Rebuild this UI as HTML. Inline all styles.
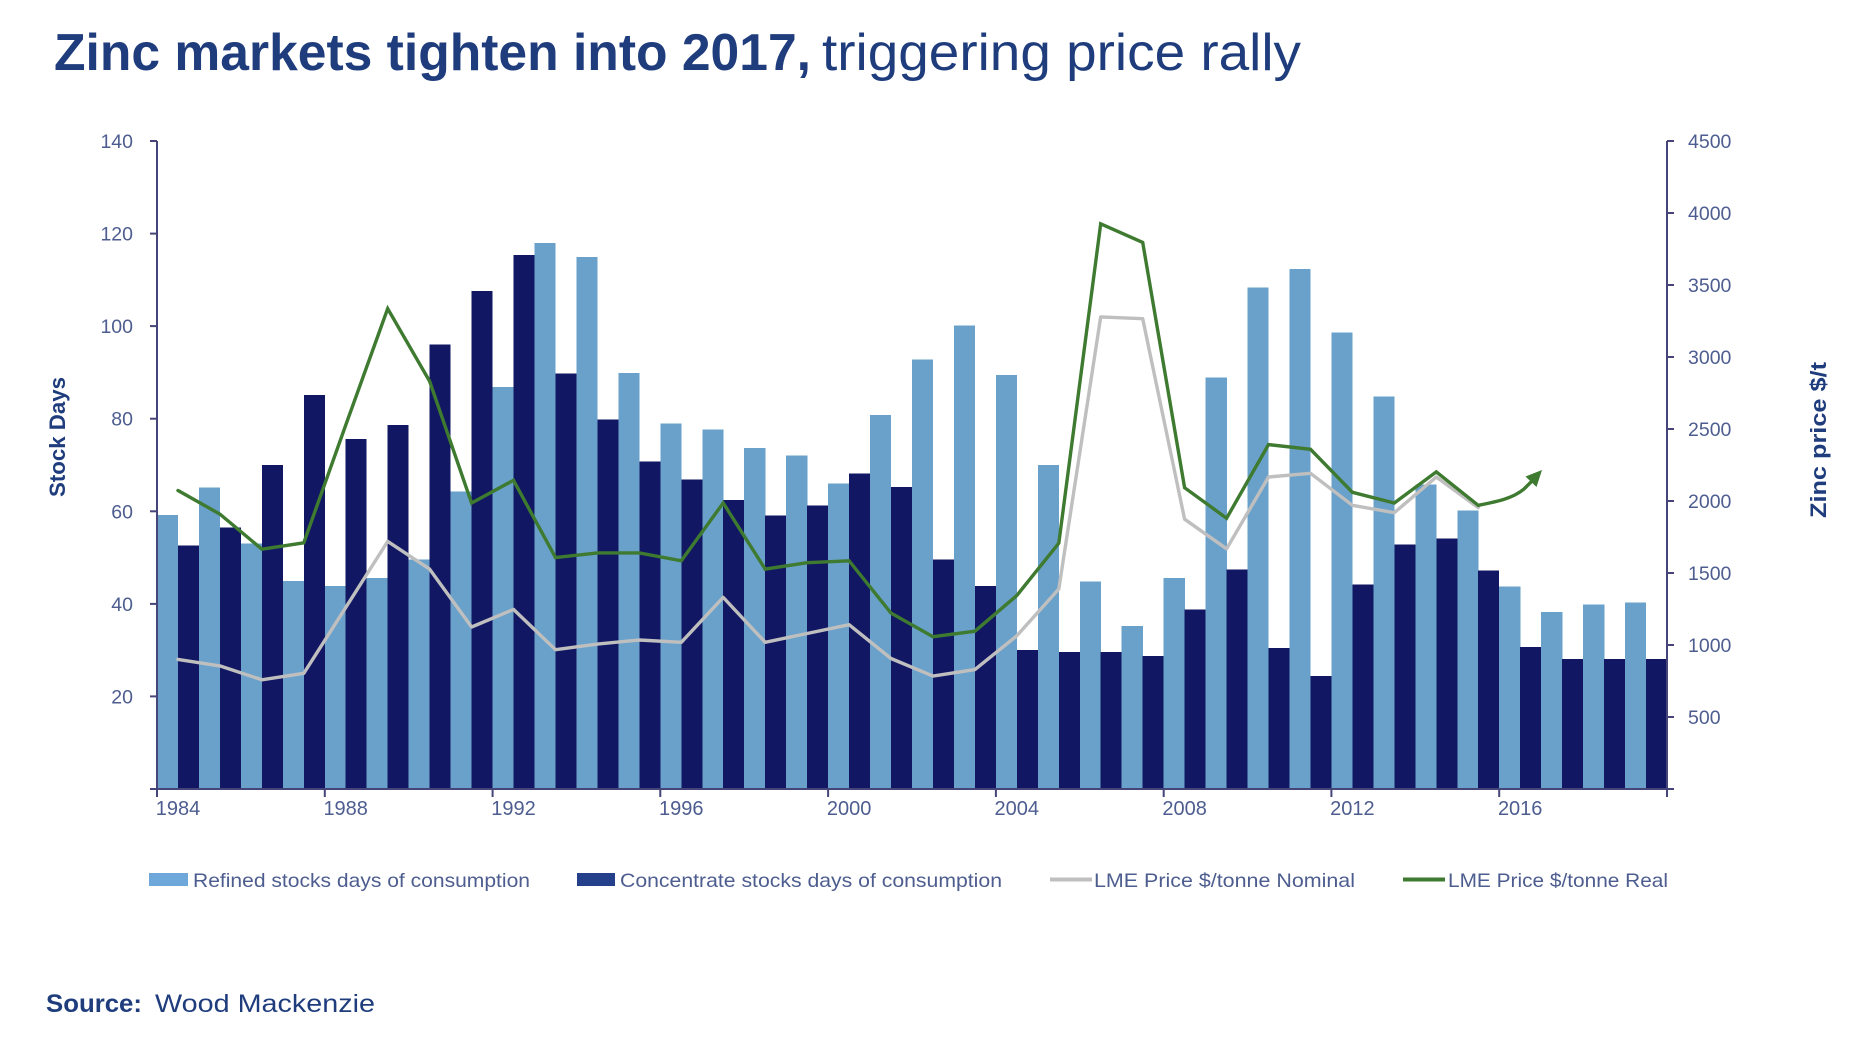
<!DOCTYPE html>
<html>
<head>
<meta charset="utf-8">
<style>
  html,body{margin:0;padding:0;background:#fff;}
  svg{display:block;}
  text{font-family:"Liberation Sans", Arial, sans-serif;}
</style>
</head>
<body>
<svg width="1871" height="1037" viewBox="0 0 1871 1037" xmlns="http://www.w3.org/2000/svg">
  <rect x="0" y="0" width="1871" height="1037" fill="#ffffff"/>

  <!-- Title -->
  <text x="54" y="70" font-size="52" font-weight="bold" fill="#1f3d7d" textLength="757" lengthAdjust="spacingAndGlyphs">Zinc markets tighten into 2017,</text>
  <text x="822" y="70" font-size="52" fill="#1f3d7d" textLength="479" lengthAdjust="spacingAndGlyphs">triggering price rally</text>

  <!-- Bars -->
  <g transform="translate(157 789) scale(41.944 -4.6286)" shape-rendering="crispEdges">
    <g fill="#6aa1ca">
      <rect x="0" y="0" width="0.505" height="59.2"/>
      <rect x="1" y="0" width="0.505" height="65.1"/>
      <rect x="2" y="0" width="0.505" height="53.0"/>
      <rect x="3" y="0" width="0.505" height="44.9"/>
      <rect x="4" y="0" width="0.505" height="43.9"/>
      <rect x="5" y="0" width="0.505" height="45.6"/>
      <rect x="6" y="0" width="0.505" height="49.6"/>
      <rect x="7" y="0" width="0.505" height="64.3"/>
      <rect x="8" y="0" width="0.505" height="86.9"/>
      <rect x="9" y="0" width="0.505" height="118.0"/>
      <rect x="10" y="0" width="0.505" height="114.9"/>
      <rect x="11" y="0" width="0.505" height="89.9"/>
      <rect x="12" y="0" width="0.505" height="79.0"/>
      <rect x="13" y="0" width="0.505" height="77.7"/>
      <rect x="14" y="0" width="0.505" height="73.7"/>
      <rect x="15" y="0" width="0.505" height="72.0"/>
      <rect x="16" y="0" width="0.505" height="66.0"/>
      <rect x="17" y="0" width="0.505" height="80.8"/>
      <rect x="18" y="0" width="0.505" height="92.8"/>
      <rect x="19" y="0" width="0.505" height="100.1"/>
      <rect x="20" y="0" width="0.505" height="89.4"/>
      <rect x="21" y="0" width="0.505" height="70.0"/>
      <rect x="22" y="0" width="0.505" height="44.8"/>
      <rect x="23" y="0" width="0.505" height="35.2"/>
      <rect x="24" y="0" width="0.505" height="45.6"/>
      <rect x="25" y="0" width="0.505" height="88.9"/>
      <rect x="26" y="0" width="0.505" height="108.4"/>
      <rect x="27" y="0" width="0.505" height="112.3"/>
      <rect x="28" y="0" width="0.505" height="98.6"/>
      <rect x="29" y="0" width="0.505" height="84.8"/>
      <rect x="30" y="0" width="0.505" height="65.8"/>
      <rect x="31" y="0" width="0.505" height="60.2"/>
      <rect x="32" y="0" width="0.505" height="43.8"/>
      <rect x="33" y="0" width="0.505" height="38.2"/>
      <rect x="34" y="0" width="0.505" height="39.9"/>
      <rect x="35" y="0" width="0.505" height="40.3"/>
    </g>
    <g fill="#111762">
      <rect x="0.5" y="0" width="0.5" height="52.6"/>
      <rect x="1.5" y="0" width="0.5" height="56.5"/>
      <rect x="2.5" y="0" width="0.5" height="70.0"/>
      <rect x="3.5" y="0" width="0.5" height="85.1"/>
      <rect x="4.5" y="0" width="0.5" height="75.6"/>
      <rect x="5.5" y="0" width="0.5" height="78.6"/>
      <rect x="6.5" y="0" width="0.5" height="96.0"/>
      <rect x="7.5" y="0" width="0.5" height="107.6"/>
      <rect x="8.5" y="0" width="0.5" height="115.4"/>
      <rect x="9.5" y="0" width="0.5" height="89.8"/>
      <rect x="10.5" y="0" width="0.5" height="79.8"/>
      <rect x="11.5" y="0" width="0.5" height="70.8"/>
      <rect x="12.5" y="0" width="0.5" height="66.9"/>
      <rect x="13.5" y="0" width="0.5" height="62.4"/>
      <rect x="14.5" y="0" width="0.5" height="59.1"/>
      <rect x="15.5" y="0" width="0.5" height="61.2"/>
      <rect x="16.5" y="0" width="0.5" height="68.2"/>
      <rect x="17.5" y="0" width="0.5" height="65.2"/>
      <rect x="18.5" y="0" width="0.5" height="49.6"/>
      <rect x="19.5" y="0" width="0.5" height="43.9"/>
      <rect x="20.5" y="0" width="0.5" height="30.0"/>
      <rect x="21.5" y="0" width="0.5" height="29.6"/>
      <rect x="22.5" y="0" width="0.5" height="29.6"/>
      <rect x="23.5" y="0" width="0.5" height="28.7"/>
      <rect x="24.5" y="0" width="0.5" height="38.8"/>
      <rect x="25.5" y="0" width="0.5" height="47.4"/>
      <rect x="26.5" y="0" width="0.5" height="30.5"/>
      <rect x="27.5" y="0" width="0.5" height="24.4"/>
      <rect x="28.5" y="0" width="0.5" height="44.2"/>
      <rect x="29.5" y="0" width="0.5" height="52.8"/>
      <rect x="30.5" y="0" width="0.5" height="54.1"/>
      <rect x="31.5" y="0" width="0.5" height="47.2"/>
      <rect x="32.5" y="0" width="0.5" height="30.7"/>
      <rect x="33.5" y="0" width="0.5" height="28.1"/>
      <rect x="34.5" y="0" width="0.5" height="28.1"/>
      <rect x="35.5" y="0" width="0.5" height="28.1"/>
    </g>
  </g>

  <!-- Nominal price (gray) -->
  <polyline fill="none" stroke="#bfbfbf" stroke-width="3.4" stroke-linejoin="round" stroke-linecap="round"
    points="178.0,659.4 219.9,665.9 261.9,679.8 303.8,673.3 345.7,607.6 387.7,541.4 429.6,569.1 471.6,627.0 513.5,609.4 555.5,649.7 597.4,644.1 639.4,640.0 681.3,642.3 723.2,597.4 765.2,642.3 807.1,633.5 849.1,624.7 891.0,658.5 933.0,676.1 974.9,669.6 1016.8,635.8 1058.8,589.0 1100.7,316.9 1142.7,318.7 1184.6,519.2 1226.6,548.8 1268.5,477.0 1310.5,473.3 1352.4,505.3 1394.3,512.7 1436.3,477.0 1478.2,507.6"/>

  <!-- Real price (green) -->
  <polyline fill="none" stroke="#3e7a30" stroke-width="3.4" stroke-linejoin="miter" stroke-linecap="round"
    points="178.0,490.5 219.9,514.1 261.9,549.2 303.8,542.8 345.7,425.2 387.7,308.6 429.6,381.2 471.6,503.0 513.5,480.3 555.5,557.6 597.4,552.9 639.4,552.9 681.3,560.8 723.2,503.0 765.2,569.1 807.1,562.7 849.1,560.8 891.0,613.1 933.0,636.7 974.9,631.2 1016.8,595.5 1058.8,543.2 1100.7,223.8 1142.7,242.4 1184.6,487.7 1226.6,518.2 1268.5,444.6 1310.5,449.3 1352.4,492.3 1394.3,503.0 1436.3,471.9 1478.2,505.3"/>
  <path d="M1478.2,505.3 C1495,502 1512,499 1524,489 L1532,481" fill="none" stroke="#3e7a30" stroke-width="3.4" stroke-linecap="round"/>
  <polygon points="1542,470 1536.5,487 1525.5,476.5" fill="#3e7a30"/>

  <!-- Axes -->
  <g stroke="#45457a" stroke-width="2" fill="none">
    <line x1="157" y1="141" x2="157" y2="797"/>
    <line x1="1667" y1="141" x2="1667" y2="797"/>
    <line x1="156" y1="789" x2="1668" y2="789"/>
    <!-- left ticks -->
    <line x1="150" y1="141" x2="157" y2="141"/>
    <line x1="150" y1="233.6" x2="157" y2="233.6"/>
    <line x1="150" y1="326.1" x2="157" y2="326.1"/>
    <line x1="150" y1="418.7" x2="157" y2="418.7"/>
    <line x1="150" y1="511.3" x2="157" y2="511.3"/>
    <line x1="150" y1="603.9" x2="157" y2="603.9"/>
    <line x1="150" y1="696.4" x2="157" y2="696.4"/>
    <line x1="150" y1="789" x2="157" y2="789"/>
    <!-- right ticks -->
    <line x1="1667" y1="141" x2="1674" y2="141"/>
    <line x1="1667" y1="213" x2="1674" y2="213"/>
    <line x1="1667" y1="285" x2="1674" y2="285"/>
    <line x1="1667" y1="357" x2="1674" y2="357"/>
    <line x1="1667" y1="429" x2="1674" y2="429"/>
    <line x1="1667" y1="501" x2="1674" y2="501"/>
    <line x1="1667" y1="573" x2="1674" y2="573"/>
    <line x1="1667" y1="645" x2="1674" y2="645"/>
    <line x1="1667" y1="717" x2="1674" y2="717"/>
    <line x1="1667" y1="789" x2="1674" y2="789"/>
    <!-- bottom ticks -->
    <line x1="324.8" y1="789" x2="324.8" y2="797"/>
    <line x1="492.6" y1="789" x2="492.6" y2="797"/>
    <line x1="660.3" y1="789" x2="660.3" y2="797"/>
    <line x1="828.1" y1="789" x2="828.1" y2="797"/>
    <line x1="995.9" y1="789" x2="995.9" y2="797"/>
    <line x1="1163.7" y1="789" x2="1163.7" y2="797"/>
    <line x1="1331.4" y1="789" x2="1331.4" y2="797"/>
    <line x1="1499.2" y1="789" x2="1499.2" y2="797"/>
  </g>

  <!-- Left tick labels -->
  <g font-size="19.5" fill="#4d5d8f" text-anchor="end">
    <text x="133" y="148">140</text>
    <text x="133" y="240.6">120</text>
    <text x="133" y="333.1">100</text>
    <text x="133" y="425.7">80</text>
    <text x="133" y="518.3">60</text>
    <text x="133" y="610.9">40</text>
    <text x="133" y="703.4">20</text>
  </g>

  <!-- Right tick labels -->
  <g font-size="19.5" fill="#4d5d8f">
    <text x="1688" y="148">4500</text>
    <text x="1688" y="220">4000</text>
    <text x="1688" y="292">3500</text>
    <text x="1688" y="364">3000</text>
    <text x="1688" y="436">2500</text>
    <text x="1688" y="508">2000</text>
    <text x="1688" y="580">1500</text>
    <text x="1688" y="652">1000</text>
    <text x="1688" y="724">500</text>
  </g>

  <!-- Year labels -->
  <g font-size="20" fill="#4d5d8f" text-anchor="middle">
    <text x="178.0" y="815">1984</text>
    <text x="345.7" y="815">1988</text>
    <text x="513.5" y="815">1992</text>
    <text x="681.3" y="815">1996</text>
    <text x="849.1" y="815">2000</text>
    <text x="1016.8" y="815">2004</text>
    <text x="1184.6" y="815">2008</text>
    <text x="1352.4" y="815">2012</text>
    <text x="1520.2" y="815">2016</text>
  </g>

  <!-- Axis titles -->
  <text transform="translate(65 437) rotate(-90)" text-anchor="middle" font-size="22" font-weight="bold" fill="#1f3d7d" textLength="120" lengthAdjust="spacingAndGlyphs">Stock Days</text>
  <text transform="translate(1826 440) rotate(-90)" text-anchor="middle" font-size="22" font-weight="bold" fill="#1f3d7d" textLength="156" lengthAdjust="spacingAndGlyphs">Zinc price $/t</text>

  <!-- Legend -->
  <rect x="149" y="873" width="39" height="13" fill="#6ea7d9"/>
  <text x="193" y="887" font-size="19.5" fill="#4d5d8f" textLength="337" lengthAdjust="spacingAndGlyphs">Refined stocks days of consumption</text>
  <rect x="577" y="873" width="38" height="13" fill="#25408a"/>
  <text x="620" y="887" font-size="19.5" fill="#4d5d8f" textLength="382" lengthAdjust="spacingAndGlyphs">Concentrate stocks days of consumption</text>
  <line x1="1050" y1="879.5" x2="1092" y2="879.5" stroke="#bfbfbf" stroke-width="4"/>
  <text x="1094" y="887" font-size="19.5" fill="#4d5d8f" textLength="261" lengthAdjust="spacingAndGlyphs">LME Price $/tonne Nominal</text>
  <line x1="1403" y1="879.5" x2="1445" y2="879.5" stroke="#3e7a30" stroke-width="4"/>
  <text x="1448" y="887" font-size="19.5" fill="#4d5d8f" textLength="220" lengthAdjust="spacingAndGlyphs">LME Price $/tonne Real</text>

  <!-- Source -->
  <text x="46" y="1012" font-size="25" font-weight="bold" fill="#1f3d7d" textLength="96" lengthAdjust="spacingAndGlyphs">Source:</text>
  <text x="155" y="1012" font-size="25" fill="#1f3d7d" textLength="220" lengthAdjust="spacingAndGlyphs">Wood Mackenzie</text>
</svg>
</body>
</html>
